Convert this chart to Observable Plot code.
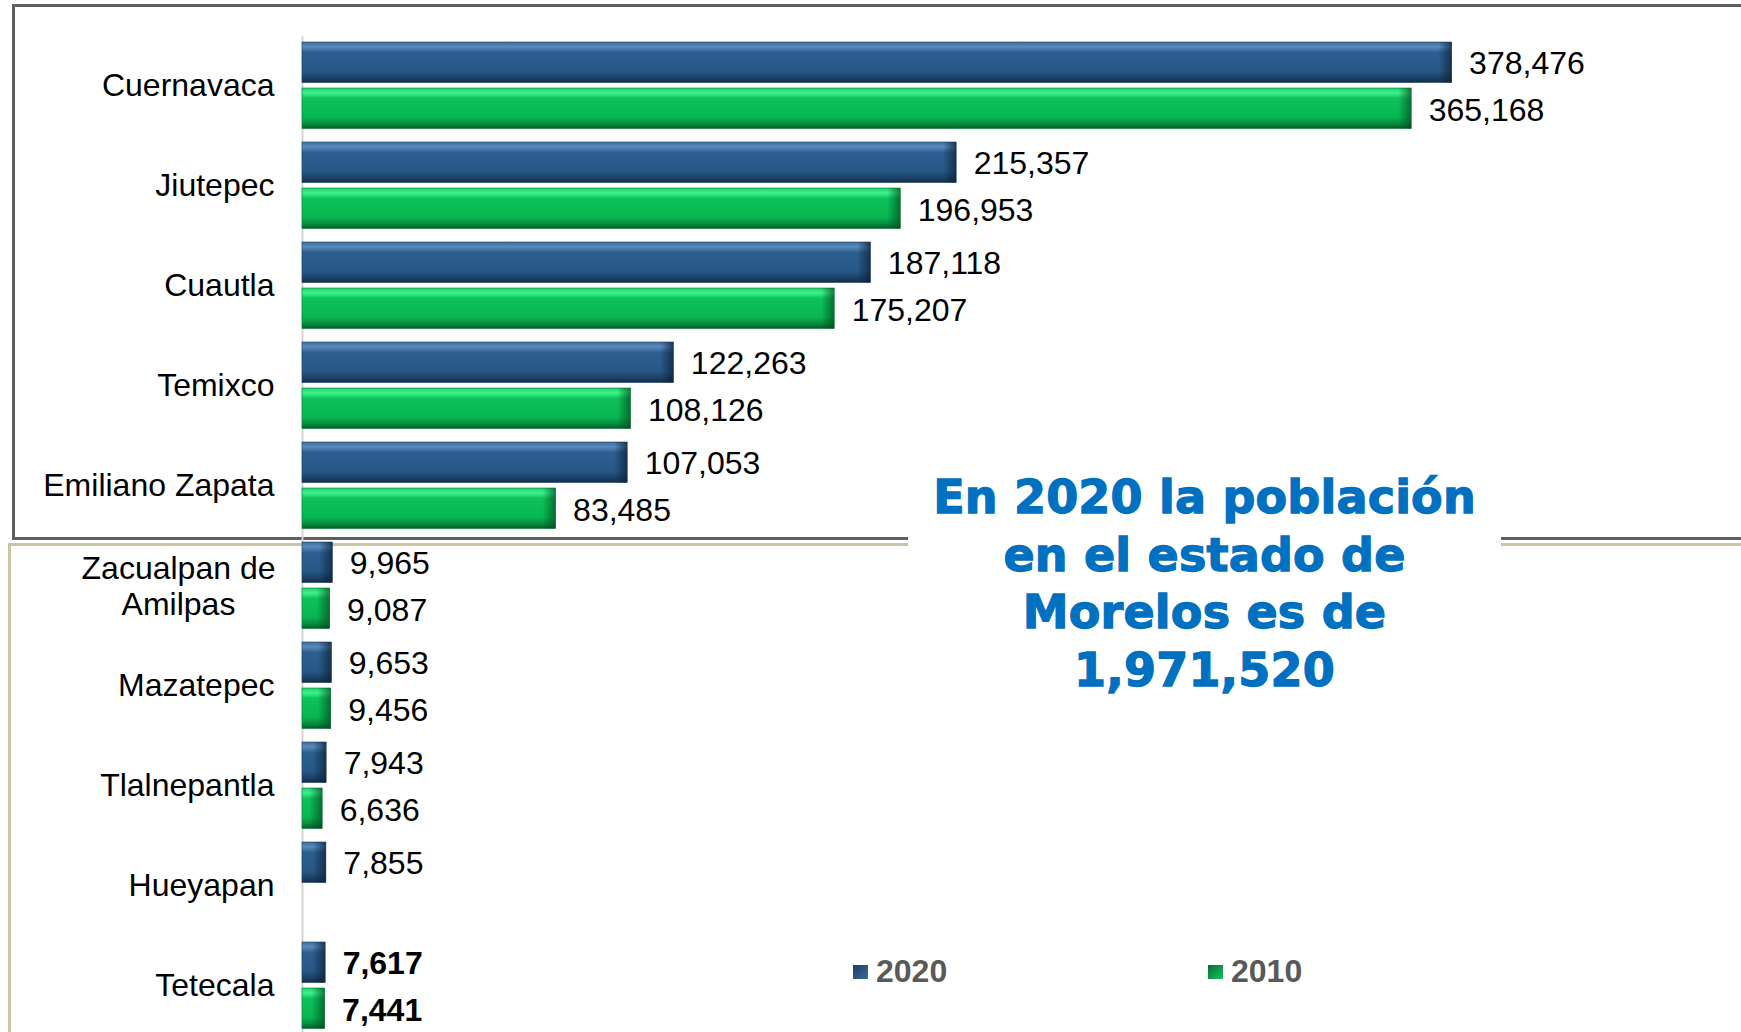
<!DOCTYPE html>
<html>
<head>
<meta charset="utf-8">
<script src="https://cdn.jsdelivr.net/npm/d3@7"></script>
<script src="https://cdn.jsdelivr.net/npm/@observablehq/plot@0.6"></script>
<style>
  html, body { margin: 0; padding: 0; background: #fff; }
  #wrap { position: relative; width: 1741px; height: 1032px; overflow: hidden;
          font-family: "Liberation Sans", Arial, sans-serif; }
  .box-top { position: absolute; left: 12px; top: 4px; width: 1800px; height: 530px;
             border: 3px solid #5f5f5f; }
  .box-bottom { position: absolute; left: 8px; top: 543px; width: 1800px; height: 700px;
                border: 3px solid #cbc5a3; }
  #chart { position: absolute; left: 0; top: 0; }
  #nota { position: absolute; left: 908px; top: 469px; width: 593px; background: #fff;
          text-align: center; color: #0070c0; font-family: "DejaVu Sans", sans-serif;
          font-weight: bold; font-size: 46px; line-height: 57.7px; letter-spacing: 0.2px;
          -webkit-text-stroke: 1.3px #0070c0; }
  .leg { position: absolute; display: flex; align-items: center; font-weight: bold;
         font-size: 32px; color: #595959; }
  .leg i { display: inline-block; width: 15px; height: 14px; margin-right: 8px; }
</style>
</head>
<body>
<div id="wrap">
  <div class="box-top"></div>
  <div class="box-bottom"></div>
  <div id="chart"></div>
  <div id="nota"></div>
  <div id="legend"></div>
</div>
<script>
// ---- Data ----
const municipios = ["Cuernavaca", "Jiutepec", "Cuautla", "Temixco", "Emiliano Zapata",
  "Zacualpan de\nAmilpas", "Mazatepec", "Tlalnepantla", "Hueyapan", "Tetecala"];
const pob2020 = [378476, 215357, 187118, 122263, 107053, 9965, 9653, 7943, 7855, 7617];
const pob2010 = [365168, 196953, 175207, 108126, 83485, 9087, 9456, 6636, null, 7441];
const series = ["2020", "2010"];
const destacado = "Tetecala";
const notaLineas = ["En 2020 la población", "en el estado de", "Morelos es de", "1,971,520"];

const rows = municipios.flatMap((m, i) => [
  {m, serie: series[0], v: pob2020[i]},
  {m, serie: series[1], v: pob2010[i]}
]).filter(d => d.v != null);
const r2020 = rows.filter(d => d.serie === "2020");
const r2010 = rows.filter(d => d.serie === "2010");
const fmt = d3.format(",");
const isBold = d => d.m === destacado;

const ins2020 = {insetTop: 7, insetBottom: 52.5};
const ins2010 = {insetTop: 53, insetBottom: 6.5};

const labelStyle = {fontSize: 32, fill: "#000", textAnchor: "start", dx: 17,
  stroke: "#fff", strokeWidth: 12, paintOrder: "stroke"};

const svg = Plot.plot({
  width: 1741,
  height: 1032,
  marginLeft: 302,
  marginRight: 224,
  marginTop: 33,
  marginBottom: -4,
  style: {fontFamily: "'Liberation Sans', Arial, sans-serif", background: "transparent", overflow: "visible"},
  x: {domain: [0, 400000], axis: null},
  y: {domain: municipios, padding: 0, axis: null},
  marks: [
    Plot.ruleX([0], {stroke: "#d4d4d4", strokeWidth: 2, insetTop: 3}),
    Plot.barX(r2020, {x: "v", y: "m", fill: "url(#g2020)", stroke: "#1c3f63", strokeWidth: 0.6, ...ins2020}),
    Plot.barX(r2010, {x: "v", y: "m", fill: "url(#g2010)", stroke: "#077a37", strokeWidth: 0.6, ...ins2010}),
    Plot.barX(r2020, {x1: "v", x2: "v", y: "m", insetLeft: -13, fill: "url(#cap2020)", ...ins2020}),
    Plot.barX(r2010, {x1: "v", x2: "v", y: "m", insetLeft: -13, fill: "url(#cap2010)", ...ins2010}),
    Plot.text(r2020.filter(d => !isBold(d)), {x: "v", y: "m", text: d => fmt(d.v), dy: -22, ...labelStyle}),
    Plot.text(r2010.filter(d => !isBold(d)), {x: "v", y: "m", text: d => fmt(d.v), dy: 25, ...labelStyle}),
    Plot.text(r2020.filter(isBold), {x: "v", y: "m", text: d => fmt(d.v), dy: -22, fontWeight: "bold", ...labelStyle}),
    Plot.text(r2010.filter(isBold), {x: "v", y: "m", text: d => fmt(d.v), dy: 25, fontWeight: "bold", ...labelStyle}),
    Plot.text(municipios.filter(m => !m.includes("\n")), {
      y: d => d, text: d => d, frameAnchor: "left", dx: -28, textAnchor: "end", fontSize: 32, fill: "#000"
    }),
    Plot.text(municipios.filter(m => m.includes("\n")), {
      y: d => d, text: d => d, frameAnchor: "left", dx: -124, textAnchor: "middle",
      lineHeight: 1.14, fontSize: 32, fill: "#000"
    })
  ]
});

d3.select(svg).insert("defs", ":first-child").html(`
  <linearGradient id="g2020" x1="0" y1="0" x2="0" y2="1">
    <stop offset="0" stop-color="#3f6e9f"/>
    <stop offset="0.12" stop-color="#5a8bbd"/>
    <stop offset="0.26" stop-color="#2c5e90"/>
    <stop offset="0.72" stop-color="#275887"/>
    <stop offset="0.88" stop-color="#1d4268"/>
    <stop offset="1" stop-color="#142f4b"/>
  </linearGradient>
  <linearGradient id="g2010" x1="0" y1="0" x2="0" y2="1">
    <stop offset="0" stop-color="#1fcf6d"/>
    <stop offset="0.12" stop-color="#3ef28d"/>
    <stop offset="0.26" stop-color="#0dc25a"/>
    <stop offset="0.72" stop-color="#08b652"/>
    <stop offset="0.88" stop-color="#078c3f"/>
    <stop offset="1" stop-color="#055c2a"/>
  </linearGradient>
  <linearGradient id="cap2020" x1="0" y1="0" x2="1" y2="0">
    <stop offset="0" stop-color="#0d2238" stop-opacity="0"/>
    <stop offset="1" stop-color="#0d2238" stop-opacity="0.75"/>
  </linearGradient>
  <linearGradient id="cap2010" x1="0" y1="0" x2="1" y2="0">
    <stop offset="0" stop-color="#034a20" stop-opacity="0"/>
    <stop offset="1" stop-color="#034a20" stop-opacity="0.7"/>
  </linearGradient>
`);

document.getElementById("chart").appendChild(svg);

// Annotation
document.getElementById("nota").innerHTML = notaLineas.join("<br>");

// Legend
const legColors = {"2020": "linear-gradient(135deg,#1c3f63,#3a6a9c)", "2010": "linear-gradient(135deg,#066d31,#16c25f)"};
const legPos = {"2020": 853, "2010": 1208};
const leg = document.getElementById("legend");
series.forEach(s => {
  const el = document.createElement("div");
  el.className = "leg";
  el.style.left = legPos[s] + "px";
  el.style.top = "953px";
  el.innerHTML = `<i style="background:${legColors[s]}"></i><span>${s}</span>`;
  leg.appendChild(el);
});
</script>
</body>
</html>
